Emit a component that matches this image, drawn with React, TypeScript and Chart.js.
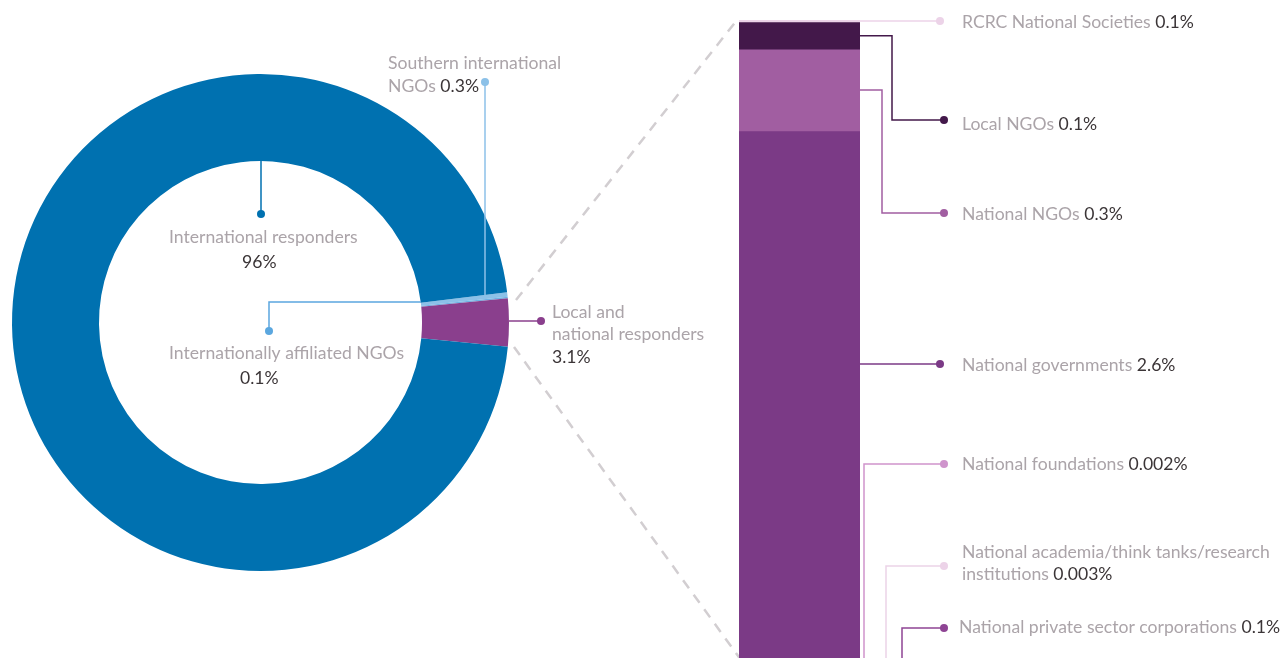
import { useEffect, useRef } from 'react';
import { Chart, registerables } from 'chart.js';

Chart.register(...registerables);

// ---------- data ----------
const donutLabels = ['Southern international NGOs', 'Internationally affiliated NGOs', 'Local and national responders', 'International responders'];
const donutValues = [0.3, 0.1, 3.1, 96.5];
const donutValueText = ['0.3%', '0.1%', '3.1%', '96%'];
const donutColors = ['#8cc1e8', '#6fb2e3', '#8a3f8d', '#0071b0'];

const barLabels = [
  'RCRC National Societies',
  'Local NGOs',
  'National NGOs',
  'National governments',
  'National foundations',
  'National academia/think tanks/research institutions',
  'National private sector corporations',
];
const barValues = [0.0075, 0.1, 0.3, 2.6, 0.002, 0.003, 0.1];
const barValueText = ['0.1%', '0.1%', '0.3%', '2.6%', '0.002%', '0.003%', '0.1%'];
const barColors = ['#ecd3e8', '#43184a', '#a15ea1', '#7b3a86', '#cf94cc', '#ecd3e8', '#8e4494'];

// ---------- styles ----------
const W = 1282;
const H = 658;
const FONT = '17.6px Lato, "Open Sans", sans-serif';
const NAME_COLOR = '#aba4a9';
const VALUE_COLOR = '#3b3537';

function drawText(ctx: CanvasRenderingContext2D, x: number, y: number, name: string, value?: string) {
  ctx.font = FONT;
  ctx.textAlign = 'left';
  ctx.textBaseline = 'middle';
  let cx = x;
  if (name) {
    ctx.fillStyle = NAME_COLOR;
    ctx.fillText(name, cx, y);
    cx += ctx.measureText(name + ' ').width;
  }
  if (value) {
    ctx.fillStyle = VALUE_COLOR;
    ctx.fillText(value, cx, y);
  }
}

function path(ctx: CanvasRenderingContext2D, pts: number[][], color: string, dot: number[] | null, width = 1.5) {
  ctx.save();
  ctx.strokeStyle = color;
  ctx.lineWidth = width;
  ctx.beginPath();
  pts.forEach((p, i) => (i === 0 ? ctx.moveTo(p[0], p[1]) : ctx.lineTo(p[0], p[1])));
  ctx.stroke();
  if (dot) {
    ctx.fillStyle = color;
    ctx.beginPath();
    ctx.arc(dot[0], dot[1], 4, 0, Math.PI * 2);
    ctx.fill();
  }
  ctx.restore();
}

const donutAnnotations = {
  id: 'donutAnnotations',
  afterDraw(chart: any) {
    const ctx = chart.ctx as CanvasRenderingContext2D;
    // dashed connectors to the bar
    ctx.save();
    ctx.strokeStyle = '#d2ced1';
    ctx.lineWidth = 2.5;
    ctx.setLineDash([10, 8]);
    ctx.beginPath();
    ctx.moveTo(516, 300);
    ctx.lineTo(737, 20);
    ctx.moveTo(514, 347);
    ctx.lineTo(741, 660);
    ctx.stroke();
    ctx.restore();

    // Southern international NGOs
    path(ctx, [[485, 82], [485, 296]], donutColors[0], [485, 82]);
    drawText(ctx, 388, 63, 'Southern international');
    drawText(ctx, 388, 86, 'NGOs', donutValueText[0]);

    // International responders
    path(ctx, [[261, 161], [261, 214]], donutColors[3], [261, 214]);
    drawText(ctx, 169, 237, donutLabels[3]);
    drawText(ctx, 242, 262, '', donutValueText[3]);

    // Internationally affiliated NGOs
    path(ctx, [[421, 302], [269, 302], [269, 331]], '#5ba7df', [269, 331]);
    drawText(ctx, 169, 353, donutLabels[1]);
    drawText(ctx, 240, 378, '', donutValueText[1]);

    // Local and national responders
    path(ctx, [[509, 321], [541, 321]], donutColors[2], [541, 321]);
    drawText(ctx, 552, 312, 'Local and');
    drawText(ctx, 552, 334, 'national responders');
    drawText(ctx, 552, 357, '', donutValueText[2]);
  },
};

const barAnnotations = {
  id: 'barAnnotations',
  afterDraw(chart: any) {
    const ctx = chart.ctx as CanvasRenderingContext2D;
    const y = chart.scales.y;
    const right = chart.chartArea.right;
    const segMid = (i: number) => {
      let s = 0;
      for (let k = 0; k < i; k++) s += barValues[k];
      return y.getPixelForValue(s + barValues[i] / 2);
    };
    const tx = 962;
    // RCRC
    path(ctx, [[chart.chartArea.left, 21], [940, 21]], barColors[0], [940, 21]);
    drawText(ctx, tx, 22, barLabels[0], barValueText[0]);
    // Local NGOs
    const y1 = segMid(1);
    path(ctx, [[right, y1], [892, y1], [892, 120], [944, 120]], barColors[1], [944, 120]);
    drawText(ctx, tx, 124, barLabels[1], barValueText[1]);
    // National NGOs
    const y2 = segMid(2);
    path(ctx, [[right, y2], [882, y2], [882, 213], [944, 213]], barColors[2], [944, 213]);
    drawText(ctx, tx, 214, barLabels[2], barValueText[2]);
    // National governments
    path(ctx, [[right, 364], [940, 364]], barColors[3], [940, 364]);
    drawText(ctx, tx, 365, barLabels[3], barValueText[3]);
    // National foundations
    path(ctx, [[864, H + 2], [864, 464], [944, 464]], barColors[4], [944, 464]);
    drawText(ctx, tx, 464, barLabels[4], barValueText[4]);
    // National academia
    path(ctx, [[886, H + 2], [886, 566], [944, 566]], barColors[5], [944, 566]);
    drawText(ctx, tx, 552, 'National academia/think tanks/research');
    drawText(ctx, tx, 574, 'institutions', barValueText[5]);
    // National private sector
    path(ctx, [[902, H + 2], [902, 628], [944, 628]], barColors[6], [944, 628]);
    drawText(ctx, 959, 627, barLabels[6], barValueText[6]);
  },
};

export default function App() {
  const donutRef = useRef<HTMLCanvasElement>(null);
  const barRef = useRef<HTMLCanvasElement>(null);

  useEffect(() => {
    document.body.style.margin = '0';
    const donut = new Chart(donutRef.current!, {
      type: 'doughnut',
      data: {
        labels: donutLabels,
        datasets: [
          {
            data: donutValues,
            backgroundColor: donutColors,
            borderWidth: 0,
          },
        ],
      },
      options: {
        animation: false,
        responsive: true,
        maintainAspectRatio: false,
        rotation: 82.98,
        cutout: '65%',
        layout: { padding: { left: 12, right: W - 509, top: 74, bottom: H - 571 } },
        plugins: { legend: { display: false }, tooltip: { enabled: false } },
      },
      plugins: [donutAnnotations],
    });

    const bar = new Chart(barRef.current!, {
      type: 'bar',
      data: {
        labels: ['Local and national responders'],
        datasets: barLabels.map((l, i) => ({
          label: l,
          data: [barValues[i]],
          backgroundColor: barColors[i],
          borderWidth: 0,
          barPercentage: 1,
          categoryPercentage: 1,
        })),
      },
      options: {
        animation: false,
        responsive: true,
        maintainAspectRatio: false,
        layout: { padding: { left: 739, right: W - 860, top: 20, bottom: 0 } },
        scales: {
          x: { stacked: true, display: false },
          y: { stacked: true, display: false, reverse: true, min: 0, max: 2.345 },
        },
        plugins: { legend: { display: false }, tooltip: { enabled: false } },
      },
      plugins: [barAnnotations],
    });

    return () => {
      donut.destroy();
      bar.destroy();
    };
  }, []);

  return (
    <div style={{ position: 'relative', width: W, height: H, overflow: 'hidden', background: '#fff' }}>
      <div style={{ position: 'absolute', left: 0, top: 0, width: W, height: H }}>
        <canvas ref={donutRef} />
      </div>
      <div style={{ position: 'absolute', left: 0, top: 0, width: W, height: H }}>
        <canvas ref={barRef} />
      </div>
    </div>
  );
}
